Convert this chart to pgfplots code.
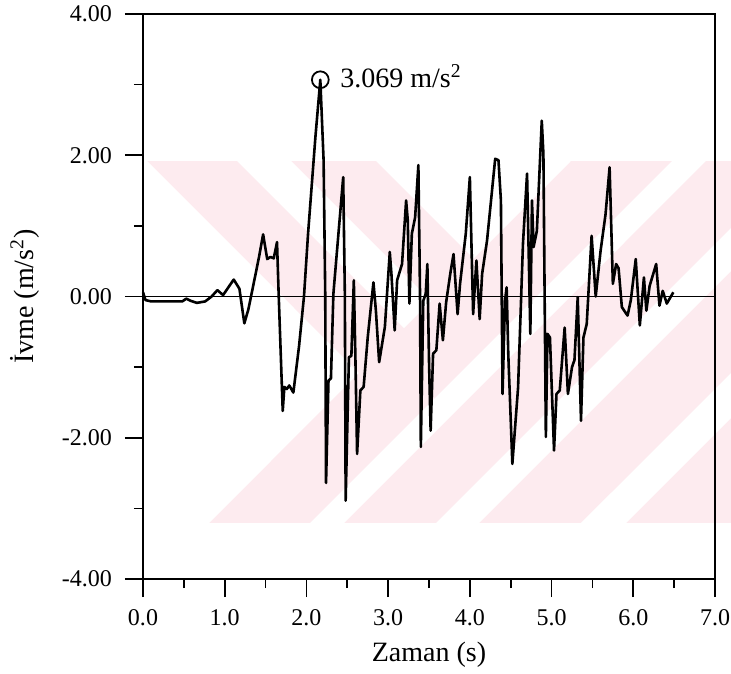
\documentclass[border=0pt]{standalone}
\usepackage{fontspec}
\setmainfont{Liberation Serif}
\usepackage{pgfplots}
\pgfplotsset{compat=1.18}
\definecolor{wm}{RGB}{253,235,239}
\begin{document}
\begin{tikzpicture}
\begin{axis}[
  scale only axis, width=286pt, height=282.5pt,
  xmin=0, xmax=7, ymin=-4, ymax=4,
  axis on top, clip=false,
  xtick={0,1,2,3,4,5,6,7},
  xticklabels={0.0,1.0,2.0,3.0,4.0,5.0,6.0,7.0},
  ytick={-4,-2,0,2,4},
  yticklabels={-4.00,-2.00,0.00,2.00,4.00},
  minor x tick num=1, minor y tick num=1,
  tick pos=left, tick align=outside,
  major tick length=9pt, minor tick length=4.5pt,
  every tick/.style={black, line width=0.8pt},
  axis line style={black, line width=1pt},
  ticklabel style={font=\fontsize{12}{14}\selectfont},
  xticklabel style={yshift=-2.5pt},
  yticklabel style={xshift=-3pt},
  xlabel={Zaman (s)},
  ylabel={İvme (m/s\textsuperscript{2})},
  label style={font=\fontsize{14}{16}\selectfont},
  xlabel style={at={(axis description cs:0.5,-0.1335)}, anchor=center},
  ylabel style={at={(axis description cs:-0.2063,0.5)}, anchor=center},
]
% background watermark (decorative)
\fill[wm] (axis cs:0.049,1.919) rectangle (axis cs:7.196,-3.207);
\fill[white] (axis cs:0.049,1.919) -- (axis cs:2.643,-1.083) -- (axis cs:0.808,-3.207) -- (axis cs:0.049,-3.207) -- cycle;
\fill[white] (axis cs:1.150,1.919) -- (axis cs:1.811,1.919) -- (axis cs:3.525,-0.064) -- (axis cs:3.194,-0.446) -- cycle;
\fill[white] (axis cs:2.851,1.919) -- (axis cs:5.238,1.919) -- (axis cs:4.045,0.538) -- cycle;
\fill[white] (axis cs:2.044,-3.207) -- (axis cs:2.460,-3.207) -- (axis cs:6.890,1.919) -- (axis cs:6.474,1.919) -- cycle;
\fill[white] (axis cs:3.586,-3.207) -- (axis cs:4.112,-3.207) -- (axis cs:7.196,0.361) -- (axis cs:7.196,0.970) -- cycle;
\fill[white] (axis cs:5.360,-3.207) -- (axis cs:5.911,-3.207) -- (axis cs:7.196,-1.720) -- (axis cs:7.196,-1.083) -- cycle;
% zero line
\addplot[black, line width=0.7pt] coordinates {(0,0) (7,0)};
% acceleration record
\addplot[black, line width=1.3pt, line join=round] coordinates {
(0.00,0.06) (0.03,-0.05) (0.10,-0.07) (0.48,-0.07) (0.53,-0.03) (0.58,-0.06)
(0.66,-0.09) (0.76,-0.07) (0.84,0.00) (0.91,0.09) (0.98,0.02) (1.11,0.24)
(1.18,0.11) (1.24,-0.38) (1.29,-0.18) (1.35,0.16) (1.42,0.56) (1.47,0.88)
(1.52,0.53) (1.56,0.56) (1.60,0.54) (1.64,0.77) (1.66,0.04) (1.71,-1.62)
(1.73,-1.28) (1.76,-1.31) (1.79,-1.26) (1.84,-1.36) (1.91,-0.70) (1.97,0.00)
(2.02,0.89) (2.11,2.26) (2.17,3.069) (2.21,1.93) (2.23,0.04) (2.24,-2.64)
(2.27,-1.19) (2.30,-1.16) (2.33,0.04) (2.45,1.69) (2.47,0.04) (2.48,-2.89)
(2.52,-0.86) (2.55,-0.84) (2.58,0.23) (2.60,-0.91) (2.62,-2.23) (2.66,-1.33)
(2.70,-1.28) (2.75,-0.58) (2.82,0.20) (2.85,-0.20) (2.89,-0.93) (2.96,-0.43)
(3.02,0.63) (3.04,0.32) (3.08,-0.48) (3.11,0.23) (3.17,0.46) (3.22,1.36)
(3.24,1.08) (3.26,-0.10) (3.29,0.89) (3.33,1.12) (3.37,1.86) (3.39,0.04)
(3.40,-2.13) (3.43,-0.06) (3.46,0.04) (3.48,0.46) (3.50,-0.91) (3.52,-1.90)
(3.55,-0.81) (3.59,-0.76) (3.63,-0.10) (3.67,-0.62) (3.71,-0.08) (3.76,0.32)
(3.80,0.60) (3.85,-0.25) (3.88,0.18) (3.95,0.89) (4.00,1.69) (4.04,-0.25)
(4.08,0.51) (4.12,-0.32) (4.15,0.32) (4.21,0.79) (4.31,1.95) (4.35,1.93)
(4.38,1.36) (4.40,-1.38) (4.43,-0.06) (4.45,0.13) (4.47,-0.81) (4.52,-2.37)
(4.59,-1.29) (4.65,0.75) (4.70,1.74) (4.74,-0.53) (4.76,1.36) (4.78,0.70)
(4.82,0.93) (4.88,2.49) (4.90,2.02) (4.93,-1.99) (4.95,-0.53) (4.98,-0.58)
(5.03,-2.18) (5.06,-1.38) (5.10,-1.33) (5.16,-0.44) (5.20,-1.38) (5.25,-1.00)
(5.28,-0.90) (5.32,-0.01) (5.36,-1.76) (5.39,-0.58) (5.43,-0.39) (5.49,0.86)
(5.54,0.00) (5.60,0.65) (5.66,1.16) (5.71,1.83) (5.75,0.18) (5.79,0.46)
(5.82,0.40) (5.86,-0.15) (5.90,-0.22) (5.93,-0.27) (5.97,-0.05) (6.03,0.53)
(6.08,-0.41) (6.13,0.27) (6.16,-0.20) (6.20,0.15) (6.28,0.46) (6.32,-0.13)
(6.36,0.08) (6.41,-0.10) (6.49,0.06)
};
% peak marker
\addplot[black, only marks, mark=o, mark size=4.2pt, mark options={line width=0.9pt}] coordinates {(2.17,3.069)};
\node[anchor=west, font=\fontsize{14}{16}\selectfont, inner sep=0pt] at (axis cs:2.41,3.12) {3.069 m/s\textsuperscript{2}};
\end{axis}
\pgfresetboundingbox
\path ([xshift=-71.5pt,yshift=-47pt]current axis.south west) rectangle ([xshift=8pt,yshift=7pt]current axis.north east);
\end{tikzpicture}
\end{document}
